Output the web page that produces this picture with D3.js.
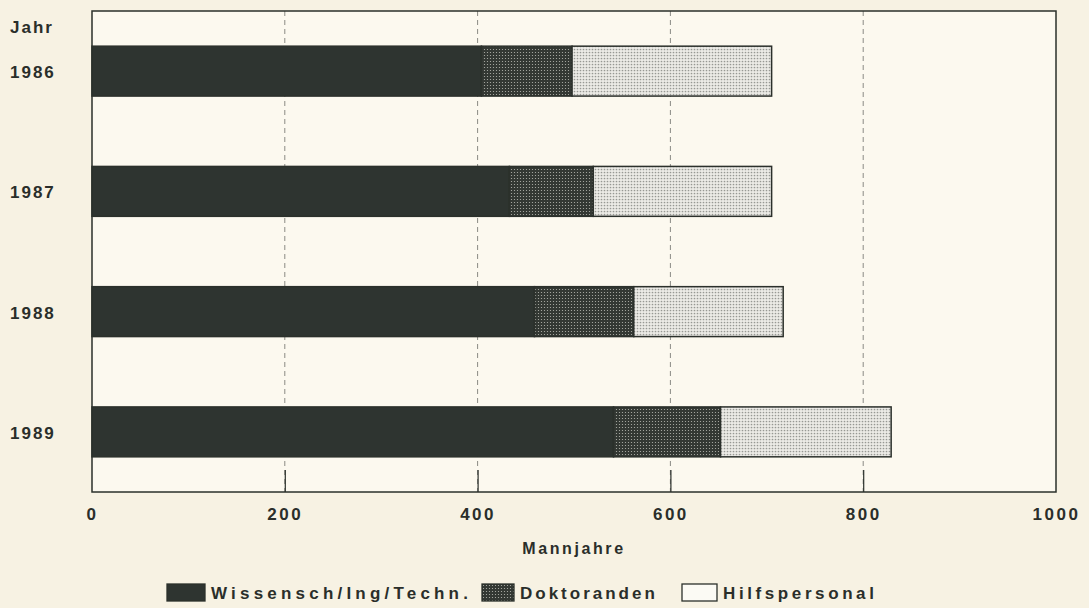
<!DOCTYPE html>
<html>
<head>
<meta charset="utf-8">
<script src="https://cdn.jsdelivr.net/npm/d3@7"></script>
<style>
body { margin: 0; background: #f7f2e3; }
text { font-family: "Liberation Sans", Arial, sans-serif; font-weight: bold; fill: #2a2e2a; }
</style>
</head>
<body>
<script>
var years = ["1986", "1987", "1988", "1989"];
var seriesNames = ["Wissensch/Ing/Techn.", "Doktoranden", "Hilfspersonal"];
var wissensch = [404, 433, 459, 541];
var doktoranden = [94, 87, 103, 111];
var hilfspersonal = [207, 185, 155, 177];
var xTicks = [0, 200, 400, 600, 800, 1000];

var w = 1089, h = 608;
var pLeft = 92, pTop = 11, pRight = 1056, pBottom = 492;

var rows = years.map(function(y, i) {
    return { year: y, "Wissensch/Ing/Techn.": wissensch[i], "Doktoranden": doktoranden[i], "Hilfspersonal": hilfspersonal[i] };
});
var stack = d3.stack().keys(seriesNames)(rows);

var svg = d3.select("body").append("svg")
    .attr("width", w)
    .attr("height", h);

var defs = svg.append("defs");

// dot patterns like the old printer raster
var p1 = defs.append("pattern").attr("id", "dots-dark")
    .attr("width", 3).attr("height", 3).attr("patternUnits", "userSpaceOnUse");
p1.append("rect").attr("width", 3).attr("height", 3).attr("fill", "#333833");
p1.append("circle").attr("cx", 1.5).attr("cy", 1.5).attr("r", 0.6).attr("fill", "#b4b5ae");

var p2 = defs.append("pattern").attr("id", "dots-light")
    .attr("width", 3).attr("height", 3).attr("patternUnits", "userSpaceOnUse");
p2.append("rect").attr("width", 3).attr("height", 3).attr("fill", "#ecebe6");
p2.append("circle").attr("cx", 1.5).attr("cy", 1.5).attr("r", 0.85).attr("fill", "#979893");

var fills = {
    "Wissensch/Ing/Techn.": "#2e3430",
    "Doktoranden": "url(#dots-dark)",
    "Hilfspersonal": "url(#dots-light)"
};

var x = d3.scaleLinear().domain([0, 1000]).range([pLeft, pRight]);
var y = d3.scaleBand().domain(years).range([pTop, pBottom])
    .paddingInner(0.585).paddingOuter(0.2925);

// plot frame
svg.append("rect")
    .attr("x", pLeft).attr("y", pTop)
    .attr("width", pRight - pLeft).attr("height", pBottom - pTop)
    .attr("fill", "#fcf9ef");

// grid lines, dashed and faint
svg.append("g").selectAll("line")
    .data(xTicks.slice(1, -1))
    .enter().append("line")
    .attr("x1", function(d) { return x(d); })
    .attr("x2", function(d) { return x(d); })
    .attr("y1", pTop).attr("y2", pBottom)
    .attr("stroke", "#8a8a84")
    .attr("stroke-width", 1)
    .attr("stroke-dasharray", "5,4");

// short ticks inside the frame
svg.append("g")
    .attr("transform", "translate(0," + pBottom + ")")
    .call(d3.axisBottom(x).tickValues(xTicks.slice(1, -1)).tickSizeInner(-22).tickSizeOuter(0).tickFormat(""))
    .call(function(g) {
        g.select(".domain").remove();
        g.selectAll("line").attr("stroke", "#2b302b").attr("stroke-width", 1.2);
    });

// bars
svg.append("g").selectAll("g")
    .data(stack)
    .enter().append("g")
    .attr("fill", function(d) { return fills[d.key]; })
    .selectAll("rect")
    .data(function(d) { return d; })
    .enter().append("rect")
    .attr("x", function(d) { return x(d[0]); })
    .attr("y", function(d) { return y(d.data.year); })
    .attr("width", function(d) { return x(d[1]) - x(d[0]); })
    .attr("height", y.bandwidth())
    .attr("stroke", "#2b302b")
    .attr("stroke-width", 1.5);

svg.append("rect")
    .attr("x", pLeft).attr("y", pTop)
    .attr("width", pRight - pLeft).attr("height", pBottom - pTop)
    .attr("fill", "none")
    .attr("stroke", "#2b302b")
    .attr("stroke-width", 1.5);

// x tick labels
svg.append("g")
    .attr("transform", "translate(0," + pBottom + ")")
    .call(d3.axisBottom(x).tickValues(xTicks).tickSize(0).tickPadding(16).tickFormat(d3.format("d")))
    .call(function(g) {
        g.select(".domain").remove();
        g.selectAll("text")
            .attr("font-size", 17)
            .attr("font-family", null)
            .style("letter-spacing", "2.5px");
    });

svg.append("text")
    .attr("x", (pLeft + pRight) / 2)
    .attr("y", 554)
    .attr("text-anchor", "middle")
    .attr("font-size", 16)
    .style("letter-spacing", "2.6px")
    .text("Mannjahre");

// y labels
svg.append("text")
    .attr("x", 10).attr("y", 33)
    .attr("font-size", 17)
    .style("letter-spacing", "2px")
    .text("Jahr");

svg.append("g").selectAll("text")
    .data(years)
    .enter().append("text")
    .attr("x", 10)
    .attr("y", function(d) { return y(d) + y.bandwidth() / 2 + 7; })
    .attr("font-size", 17)
    .style("letter-spacing", "2px")
    .text(function(d) { return d; });

// legend
var legendX = [167, 482, 682];
var boxW = [38, 32, 35];
var spacing = [4.2, 3.0, 3.6];
var lg = svg.append("g").selectAll("g")
    .data(seriesNames)
    .enter().append("g")
    .attr("transform", function(d, i) { return "translate(" + legendX[i] + ",584)"; });

lg.append("rect")
    .attr("width", function(d, i) { return boxW[i]; })
    .attr("height", 17)
    .attr("fill", function(d) { return d == "Hilfspersonal" ? "#fbfaf4" : fills[d]; })
    .attr("stroke", "#2b302b")
    .attr("stroke-width", 1.3);

lg.append("text")
    .attr("x", function(d, i) { return boxW[i] + 6; })
    .attr("y", 15)
    .attr("font-size", 17)
    .style("letter-spacing", function(d, i) { return spacing[i] + "px"; })
    .text(function(d) { return d; });
</script>
</body>
</html>
